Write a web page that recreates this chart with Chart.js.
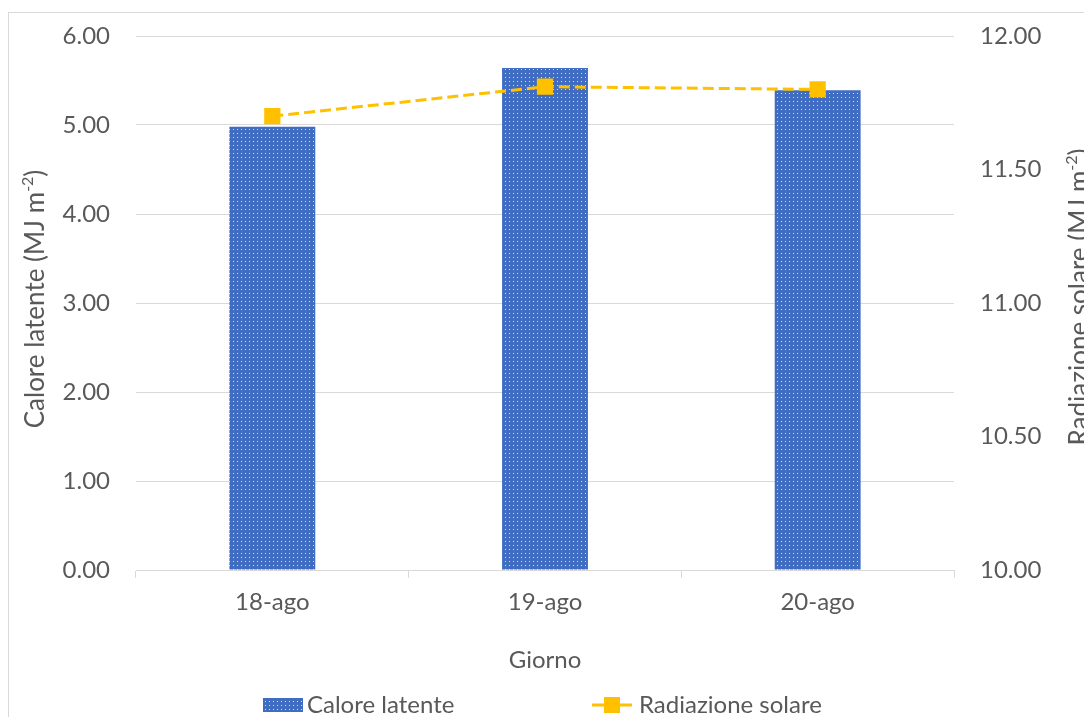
<!DOCTYPE html>
<html><head><meta charset="utf-8">
<script src="https://cdn.jsdelivr.net/npm/chart.js@4.4.1/dist/chart.umd.min.js"></script>
<style>html,body{margin:0;padding:0;background:#fff;overflow:hidden}#wrap{position:relative;width:1084px;height:717px}</style>
</head><body><div id="wrap"><canvas id="c" width="1084" height="717"></canvas></div>
<script>
const categories = ['18-ago', '19-ago', '20-ago'];
const caloreLatente = [4.98, 5.64, 5.39];
const radiazioneSolare = [11.70, 11.81, 11.80];
const leftTicks = [0, 6, 1];       // min, max, step
const rightTicks = [10, 12, 0.5];  // min, max, step
const seriesNames = ['Calore latente', 'Radiazione solare'];
const xTitle = 'Giorno';
const leftTitle = ['Calore latente (MJ m', '-2', ')'];
const rightTitle = ['Radiazione solare (MJ m', '-2', ')'];

const FONT = 'Lato';
const TXT = '#595959';
const GRID = '#D9D9D9';
const BLUE = '#3F6DC4';
const GOLD = '#FFC000';

function makePattern() {
  const p = document.createElement('canvas');
  p.width = 4; p.height = 4;
  const g = p.getContext('2d');
  g.fillStyle = BLUE; g.fillRect(0, 0, 4, 4);
  g.fillStyle = 'rgba(225,235,255,0.9)';
  g.fillRect(1, 1, 1, 1);
  return g.createPattern(p, 'repeat');
}
const barFill = makePattern();

function drawRichRotated(ctx, parts, cx, cy, size) {
  ctx.save();
  ctx.translate(cx, cy);
  ctx.rotate(-Math.PI / 2);
  const main = size + 'px ' + FONT, sup = Math.round(size * 0.62) + 'px ' + FONT;
  ctx.font = main; const w0 = ctx.measureText(parts[0]).width, w2 = ctx.measureText(parts[2]).width;
  ctx.font = sup; const w1 = ctx.measureText(parts[1]).width;
  let x = -(w0 + w1 + w2) / 2;
  ctx.fillStyle = TXT; ctx.textBaseline = 'middle'; ctx.textAlign = 'left';
  ctx.font = main; ctx.fillText(parts[0], x, 0); x += w0;
  ctx.font = sup; ctx.fillText(parts[1], x, -size * 0.33); x += w1;
  ctx.font = main; ctx.fillText(parts[2], x, 0);
  ctx.restore();
}

const decor = {
  id: 'decor',
  beforeDraw(chart) {
    const ctx = chart.ctx;
    ctx.save();
    ctx.strokeStyle = GRID; ctx.lineWidth = 1;
    ctx.strokeRect(8.5, 12.5, 3000, 3000);
    ctx.restore();
  },
  afterDraw(chart) {
    const ctx = chart.ctx, a = chart.chartArea;
    const cy = (a.top + a.bottom) / 2;
    drawRichRotated(ctx, leftTitle, 36, cy - 4, 26);
    drawRichRotated(ctx, rightTitle, 1080, cy - 6, 26);
    ctx.save();
    ctx.fillStyle = TXT; ctx.font = '24px ' + FONT;
    ctx.textAlign = 'center'; ctx.textBaseline = 'middle';
    ctx.fillText(xTitle, (a.left + a.right) / 2, 660);
    // legend
    const ly = 705;
    ctx.fillStyle = barFill;
    ctx.fillRect(263, ly - 7, 40, 14);
    ctx.fillStyle = TXT; ctx.textAlign = 'left';
    ctx.fillText(seriesNames[0], 307, ly);
    ctx.strokeStyle = GOLD; ctx.lineWidth = 3;
    ctx.beginPath(); ctx.moveTo(592, ly); ctx.lineTo(632, ly); ctx.stroke();
    ctx.fillStyle = GOLD; ctx.fillRect(604, ly - 8, 16, 16);
    ctx.fillStyle = TXT;
    ctx.fillText(seriesNames[1], 639, ly);
    ctx.restore();
  }
};

function fixY(w) {
  return function (s) { s.width = w; s.paddingTop = 10; s.paddingBottom = 10; };
}

new Chart(document.getElementById('c'), {
  data: {
    labels: categories,
    datasets: [
      {
        type: 'line', label: seriesNames[1], data: radiazioneSolare, yAxisID: 'y1', order: 0,
        borderColor: GOLD, borderWidth: 3, borderDash: [11, 5], backgroundColor: GOLD,
        pointStyle: 'rect', pointRadius: 11.5, pointHoverRadius: 11.5, pointBackgroundColor: GOLD,
        pointBorderWidth: 0, tension: 0
      },
      {
        type: 'bar', label: seriesNames[0], data: caloreLatente, yAxisID: 'y', order: 1,
        backgroundColor: barFill, borderWidth: 0, categoryPercentage: 1, barPercentage: 0.315
      }
    ]
  },
  options: {
    responsive: false, animation: false, devicePixelRatio: 1,
    layout: { padding: { top: 36, left: 0, right: 0, bottom: 0 } },
    plugins: { legend: { display: false }, tooltip: { enabled: false } },
    scales: {
      x: {
        type: 'category', offset: true,
        grid: { offset: true, drawOnChartArea: false, drawTicks: true, tickLength: 8, color: GRID },
        border: { display: true, color: GRID },
        ticks: { color: TXT, font: { family: FONT, size: 24 }, padding: 10, maxRotation: 0 },
        afterFit(s) { s.height = 147; }
      },
      y: {
        position: 'left', min: leftTicks[0], max: leftTicks[1],
        ticks: { stepSize: leftTicks[2], color: TXT, font: { family: FONT, size: 24 }, padding: 26,
          callback: v => Number(v).toFixed(2) },
        grid: { color: GRID, drawTicks: false },
        border: { display: false },
        afterFit: fixY(136)
      },
      y1: {
        position: 'right', min: rightTicks[0], max: rightTicks[1],
        ticks: { stepSize: rightTicks[2], color: TXT, font: { family: FONT, size: 24 }, padding: 26,
          callback: v => Number(v).toFixed(2) },
        grid: { display: false, drawTicks: false },
        border: { display: false },
        afterFit: fixY(130)
      }
    }
  },
  plugins: [decor]
});
</script>
</body></html>
